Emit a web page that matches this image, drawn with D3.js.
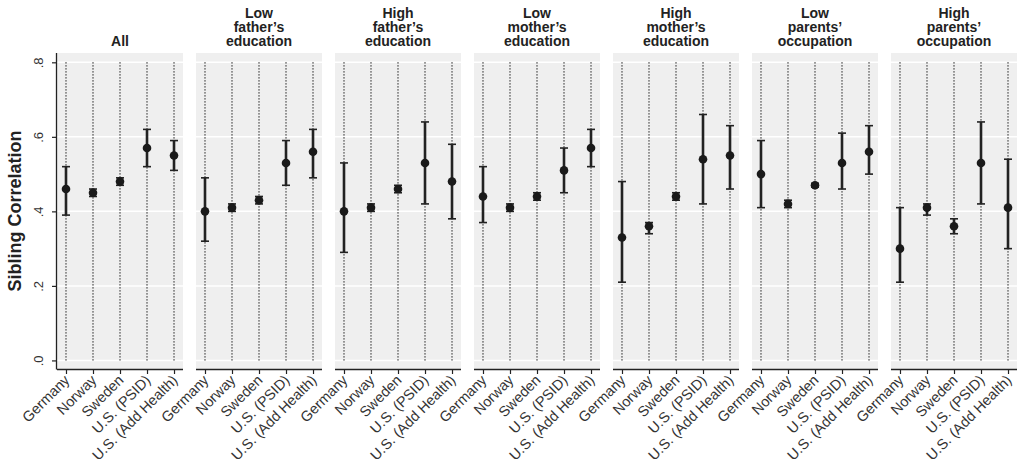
<!DOCTYPE html>
<html>
<head>
<meta charset="utf-8">
<script src="https://cdn.jsdelivr.net/npm/d3@7"></script>
<style>
  body { margin: 0; background: #fff; }
  text { font-family: "Liberation Sans", Arial, sans-serif; }
</style>
</head>
<body>
<div id="chart"></div>
<script>
var countries = ["Germany", "Norway", "Sweden", "U.S. (PSID)", "U.S. (Add Health)"];
var panels = [
    ["All"],
    ["Low", "father\u2019s", "education"],
    ["High", "father\u2019s", "education"],
    ["Low", "mother\u2019s", "education"],
    ["High", "mother\u2019s", "education"],
    ["Low", "parents\u2019", "occupation"],
    ["High", "parents\u2019", "occupation"]
];
var estimates = [
    [0.46, 0.45, 0.48, 0.57, 0.55],
    [0.40, 0.41, 0.43, 0.53, 0.56],
    [0.40, 0.41, 0.46, 0.53, 0.48],
    [0.44, 0.41, 0.44, 0.51, 0.57],
    [0.33, 0.36, 0.44, 0.54, 0.55],
    [0.50, 0.42, 0.47, 0.53, 0.56],
    [0.30, 0.41, 0.36, 0.53, 0.41]
];
var lower = [
    [0.39, 0.44, 0.47, 0.52, 0.51],
    [0.32, 0.40, 0.42, 0.47, 0.49],
    [0.29, 0.40, 0.45, 0.42, 0.38],
    [0.37, 0.40, 0.43, 0.45, 0.52],
    [0.21, 0.34, 0.43, 0.42, 0.46],
    [0.41, 0.41, 0.465, 0.46, 0.50],
    [0.21, 0.39, 0.34, 0.42, 0.30]
];
var upper = [
    [0.52, 0.46, 0.49, 0.62, 0.59],
    [0.49, 0.42, 0.44, 0.59, 0.62],
    [0.53, 0.42, 0.47, 0.64, 0.58],
    [0.52, 0.42, 0.45, 0.57, 0.62],
    [0.48, 0.37, 0.45, 0.66, 0.63],
    [0.59, 0.43, 0.475, 0.61, 0.63],
    [0.41, 0.42, 0.38, 0.64, 0.54]
];
var yTicks = [0, 0.2, 0.4, 0.6, 0.8];

var width = 1020, height = 465;
var plotTop = 53, plotBottom = 369;

var svg = d3.select('#chart')
    .append('svg')
    .attr('width', width)
    .attr('height', height);

var panelX = d3.scaleBand()
    .domain(d3.range(panels.length))
    .range([57, 1017])
    .paddingInner(0.0935)
    .paddingOuter(0);

var y = d3.scaleLinear()
    .domain([-0.023, 0.825])
    .range([plotBottom, plotTop]);

var fmt = function (d) { return d3.format('.1f')(d).replace(/^0/, ''); };

// y axis label
svg.append('text')
    .attr('transform', 'translate(21,' + ((plotTop + plotBottom) / 2) + ') rotate(-90)')
    .attr('text-anchor', 'middle')
    .style('font-size', '18px')
    .style('font-weight', 'bold')
    .style('fill', '#222')
    .text('Sibling Correlation');

panels.forEach(function (title, p) {
    var x0 = panelX(p);
    var bw = panelX.bandwidth();
    var x = d3.scalePoint()
        .domain(countries)
        .range([x0, x0 + bw])
        .padding(0.333);

    var g = svg.append('g');

    g.append('rect')
        .attr('x', x0)
        .attr('y', plotTop)
        .attr('width', bw)
        .attr('height', plotBottom - plotTop)
        .attr('fill', '#efefef');

    g.selectAll('.grid')
        .data(yTicks)
        .enter()
        .append('line')
        .attr('x1', x0)
        .attr('x2', x0 + bw)
        .attr('y1', function (d) { return y(d); })
        .attr('y2', function (d) { return y(d); })
        .attr('stroke', '#fff')
        .attr('stroke-width', 1.5);

    // dotted verticals
    g.selectAll('.vline')
        .data(countries)
        .enter()
        .append('line')
        .attr('x1', function (d) { return x(d); })
        .attr('x2', function (d) { return x(d); })
        .attr('y1', y(0.8))
        .attr('y2', y(0))
        .attr('stroke', '#111')
        .attr('stroke-width', 1.1)
        .attr('stroke-dasharray', '1.2,1.8');

    // title
    var t = g.append('text')
        .attr('text-anchor', 'middle')
        .style('font-size', '14px')
        .style('font-weight', 'bold')
        .style('fill', '#222');
    title.forEach(function (line, i) {
        t.append('tspan')
            .attr('x', x0 + bw / 2)
            .attr('y', 45.5 - (title.length - 1 - i) * 13.6)
            .text(line);
    });

    // x axis
    var xAxis = g.append('g')
        .attr('transform', 'translate(0,' + plotBottom + ')')
        .call(d3.axisBottom(x).tickSize(5).tickSizeOuter(0));
    xAxis.select('.domain').attr('stroke', '#222').attr('stroke-width', 1.3)
        .attr('d', 'M' + x0 + ',0.5H' + (x0 + bw));
    xAxis.selectAll('.tick line').attr('stroke', '#222').attr('stroke-width', 1.2);
    xAxis.selectAll('.tick text')
        .attr('text-anchor', 'end')
        .attr('dy', null)
        .attr('y', 0)
        .attr('transform', 'translate(4,12) rotate(-45)')
        .style('font-size', '14.5px')
        .style('fill', '#333')
        .style('font-family', '"Liberation Sans", Arial, sans-serif');

    var rows = countries.map(function (c, i) {
        return { c: c, est: estimates[p][i], lo: lower[p][i], hi: upper[p][i] };
    });

    // error bars
    g.selectAll('.ci')
        .data(rows)
        .enter()
        .append('line')
        .attr('x1', function (d) { return x(d.c); })
        .attr('x2', function (d) { return x(d.c); })
        .attr('y1', function (d) { return y(d.lo); })
        .attr('y2', function (d) { return y(d.hi); })
        .attr('stroke', '#222')
        .attr('stroke-width', 2.6);

    ['lo', 'hi'].forEach(function (k) {
        g.selectAll('.cap-' + k)
            .data(rows)
            .enter()
            .append('line')
            .attr('x1', function (d) { return x(d.c) - 4; })
            .attr('x2', function (d) { return x(d.c) + 4; })
            .attr('y1', function (d) { return y(d[k]); })
            .attr('y2', function (d) { return y(d[k]); })
            .attr('stroke', '#222')
            .attr('stroke-width', 1.6);
    });

    g.selectAll('.dot')
        .data(rows)
        .enter()
        .append('circle')
        .attr('cx', function (d) { return x(d.c); })
        .attr('cy', function (d) { return y(d.est); })
        .attr('r', 4.3)
        .attr('fill', '#1a1a1a');

    if (p === 0) {
        var yAxis = g.append('g')
            .attr('transform', 'translate(' + x0 + ',0)')
            .call(d3.axisLeft(y).tickValues(yTicks).tickFormat(fmt).tickSize(5).tickSizeOuter(0));
        yAxis.select('.domain').attr('stroke', '#222').attr('stroke-width', 1.3)
            .attr('d', 'M-0.5,' + plotTop + 'V' + (plotBottom + 0.5));
        yAxis.selectAll('.tick line').attr('stroke', '#222').attr('stroke-width', 1.2);
        yAxis.selectAll('.tick text')
            .attr('x', null)
            .attr('dy', null)
            .attr('text-anchor', 'middle')
            .attr('transform', 'translate(-14,0) rotate(-90)')
            .style('font-size', '13px')
            .style('fill', '#333')
            .style('font-family', '"Liberation Sans", Arial, sans-serif');
    }
});
</script>
</body>
</html>
